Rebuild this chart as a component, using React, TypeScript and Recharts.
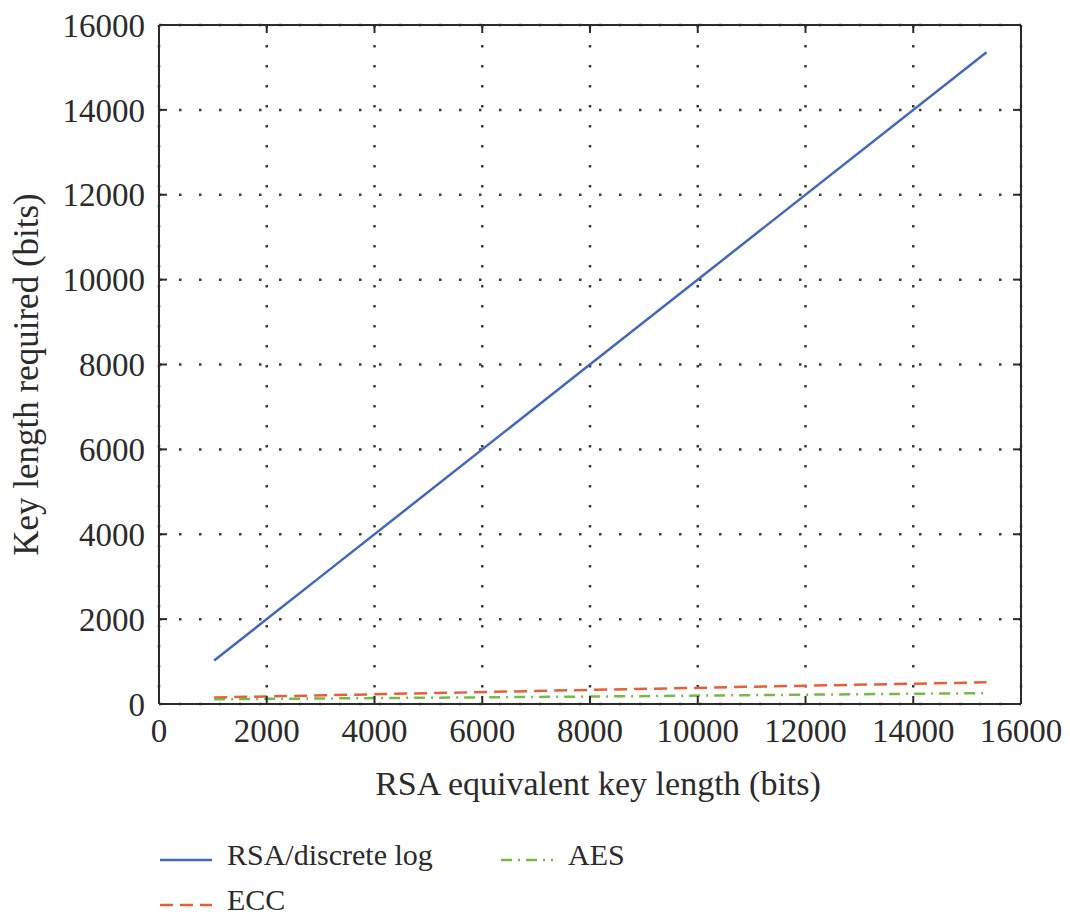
import React from "react";
import {
  LineChart,
  Line,
  XAxis,
  YAxis,
  CartesianGrid,
  Legend,
} from "recharts";

// values
const rsaEquivalent = [1024, 2048, 3072, 7680, 15360];
const rsaKey = [1024, 2048, 3072, 7680, 15360];
const eccKey = [155, 180, 205, 325, 512];
const aesKey = [112, 121, 131, 172, 256];
const axisTicks = [0, 2000, 4000, 6000, 8000, 10000, 12000, 14000, 16000];

const data = rsaEquivalent.map((x, i) => ({
  x,
  rsa: rsaKey[i],
  ecc: eccKey[i],
  aes: aesKey[i],
}));

const FONT = '"Liberation Serif", "Times New Roman", serif';
const INK = "#2b2b2b";
const BLUE = "#4468b9";
const ORANGE = "#e65f37";
const GREEN = "#74b94a";

const ECC_DASH = "13 7";
const AES_DASH = "11 6 2 6";
const TICK_LEN = 8;
const X_GAP = 15;
const Y_GAP = 14;
const DOMAIN: [number, number] = [0, 16000];

// ticks point into the plot, so they are drawn with the label
function BottomTick({ x, y, payload }: any) {
  const axisY = y - X_GAP;
  return (
    <g>
      <line x1={x} x2={x} y1={axisY} y2={axisY - TICK_LEN} stroke={INK} strokeWidth={2} />
      <text x={x} y={y} dy="0.71em" textAnchor="middle" fontFamily={FONT} fontSize={33} fill={INK}>
        {payload.value}
      </text>
    </g>
  );
}

function LeftTick({ x, y, payload }: any) {
  const axisX = x + Y_GAP;
  return (
    <g>
      <line x1={axisX} x2={axisX + TICK_LEN} y1={y} y2={y} stroke={INK} strokeWidth={2} />
      <text x={x} y={y} dy="0.355em" textAnchor="end" fontFamily={FONT} fontSize={33} fill={INK}>
        {payload.value}
      </text>
    </g>
  );
}

function TopTick({ x, y }: any) {
  return <line x1={x} x2={x} y1={y} y2={y + TICK_LEN} stroke={INK} strokeWidth={2} />;
}

function RightTick({ x, y }: any) {
  return <line x1={x} x2={x - TICK_LEN} y1={y} y2={y} stroke={INK} strokeWidth={2} />;
}

function LegendBox() {
  const item = (x: number, y: number, color: string, dash: string | undefined, label: string) => (
    <g>
      <line x1={x} x2={x + 52} y1={y} y2={y} stroke={color} strokeWidth={2.5} strokeDasharray={dash} />
      <text x={x + 67} y={y + 5} fontFamily={FONT} fontSize={30} fill={INK}>
        {label}
      </text>
    </g>
  );
  return (
    <svg width={1070} height={100} style={{ display: "block" }}>
      {item(160, 30, BLUE, undefined, "RSA/discrete log")}
      {item(501, 30, GREEN, AES_DASH, "AES")}
      {item(160, 75, ORANGE, ECC_DASH, "ECC")}
    </svg>
  );
}

export default function App() {
  const frame = { stroke: INK, strokeWidth: 2 };
  return (
    <div style={{ position: "absolute", left: 0, top: 0, background: "#fff" }}>
      <LineChart
        width={1070}
        height={917}
        data={data}
        margin={{ top: 24, right: 48, bottom: 113, left: 0 }}
      >
        <CartesianGrid stroke="#3a3a3a" strokeWidth={2.5} strokeDasharray="2.5 17.5" />
        <XAxis
          dataKey="x"
          type="number"
          domain={DOMAIN}
          allowDataOverflow
          ticks={axisTicks}
          interval={0}
          height={100}
          tickSize={0}
          tickMargin={X_GAP}
          tick={<BottomTick />}
          tickLine={false}
          axisLine={frame}
          label={{
            content: ({ viewBox }: any) => (
              <text
                x={viewBox.x + viewBox.width / 2 + 8}
                y={795}
                textAnchor="middle"
                fontFamily={FONT}
                fontSize={34}
                fill={INK}
              >
                RSA equivalent key length (bits)
              </text>
            ),
          }}
        />
        <XAxis
          xAxisId="top"
          dataKey="x"
          orientation="top"
          type="number"
          domain={DOMAIN}
          allowDataOverflow
          ticks={axisTicks}
          interval={0}
          height={1}
          tickSize={0}
          tickMargin={0}
          tick={<TopTick />}
          tickLine={false}
          axisLine={frame}
        />
        <YAxis
          type="number"
          domain={DOMAIN}
          allowDataOverflow
          ticks={axisTicks}
          interval={0}
          width={159}
          tickSize={0}
          tickMargin={Y_GAP}
          tick={<LeftTick />}
          tickLine={false}
          axisLine={frame}
          label={{
            content: ({ viewBox }: any) => (
              <text
                x={38}
                y={viewBox.y + viewBox.height / 2 + 10}
                transform={`rotate(-90, 38, ${viewBox.y + viewBox.height / 2 + 10})`}
                textAnchor="middle"
                fontFamily={FONT}
                fontSize={35}
                fill={INK}
              >
                Key length required (bits)
              </text>
            ),
          }}
        />
        <YAxis
          yAxisId="right"
          orientation="right"
          type="number"
          domain={DOMAIN}
          allowDataOverflow
          ticks={axisTicks}
          interval={0}
          width={1}
          tickSize={0}
          tickMargin={0}
          tick={<RightTick />}
          tickLine={false}
          axisLine={frame}
        />
        <Line
          dataKey="rsa"
          stroke={BLUE}
          strokeWidth={2.5}
          dot={false}
          isAnimationActive={false}
        />
        <Line
          dataKey="ecc"
          yAxisId="right"
          stroke={ORANGE}
          strokeWidth={2.5}
          strokeDasharray={ECC_DASH}
          dot={false}
          isAnimationActive={false}
        />
        <Line
          dataKey="aes"
          xAxisId="top"
          stroke={GREEN}
          strokeWidth={2.5}
          strokeDasharray={AES_DASH}
          dot={false}
          isAnimationActive={false}
        />
        <Legend
          layout="horizontal"
          verticalAlign="middle"
          align="center"
          content={() => <LegendBox />}
          wrapperStyle={{ position: "absolute", left: 0, top: 830, width: 1070, height: 100 }}
        />
      </LineChart>
    </div>
  );
}
